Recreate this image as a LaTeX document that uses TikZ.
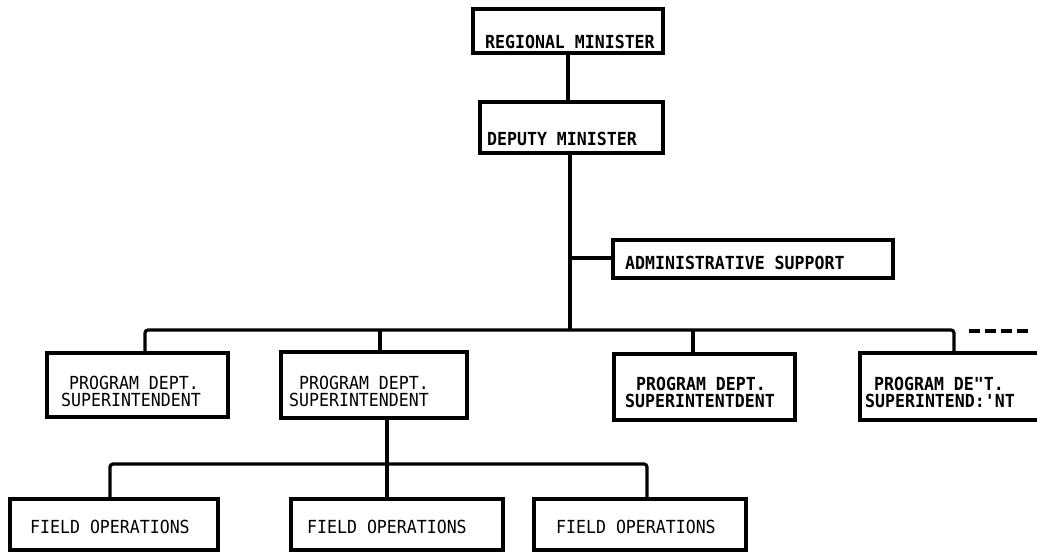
\documentclass[tikz,border=0pt]{standalone}
\usepackage{fontspec}
\newfontfamily\lblfont[FakeStretch=0.92]{DejaVu Sans Mono}
\usetikzlibrary{calc}
\begin{document}
\begin{tikzpicture}[x=1pt,y=-1pt,
  box/.style={draw=black, line width=3.2pt, inner sep=0pt, rectangle},
  conn/.style={draw=black, line width=3.2pt, rounded corners=3pt},
  lbl/.style={anchor=base west, inner sep=0pt, font=\lblfont\fontsize{18}{18}\selectfont},
  lblb/.style={lbl, font=\lblfont\bfseries\fontsize{18}{18}\selectfont},
  more/.style={draw=black, line width=3.2pt, dash pattern=on 11pt off 5pt}]
\clip (0,0) rectangle (1037,554);
\fill[white] (0,0) rectangle (1037,554);

% top of the chart
\node[box, minimum width=190pt, minimum height=44pt] (rm) at (568,31) {};
\node[box, minimum width=183pt, minimum height=51pt] (dm) at (571.5,127.5) {};
\node[box, minimum width=280pt, minimum height=38pt] (adm) at (753,259) {};
\node[lblb] (rmt) at (485,48) {REGIONAL MINISTER};
\node[lblb] (dmt) at (487,145) {DEPUTY MINISTER};
\node[lblb] (admt) at (625,269) {ADMINISTRATIVE SUPPORT};

% program departments
\node[box, minimum width=181pt, minimum height=64pt] (p1) at (137.5,385) {};
\node[box, minimum width=186pt, minimum height=66pt] (p2) at (374,385) {};
\node[box, minimum width=181pt, minimum height=66pt] (p3) at (704.5,387) {};
\node[box, minimum width=220pt, minimum height=67pt] (p4) at (970,386.5) {};
\node[lbl] (p1a) at (69,389) {PROGRAM DEPT.};
\node[lbl] (p1b) at (61,406) {SUPERINTENDENT};
\node[lbl] (p2a) at (299,389) {PROGRAM DEPT.};
\node[lbl] (p2b) at (289,406) {SUPERINTENDENT};
\node[lblb] (p3a) at (636,390) {PROGRAM DEPT.};
\node[lblb] (p3b) at (625,407) {SUPERINTENTDENT};
\node[lblb] (p4a) at (874,390) {PROGRAM DE"T.};
\node[lblb] (p4b) at (865,407) {SUPERINTEND:'NT};

% field operations
\node[box, minimum width=208pt, minimum height=51pt] (f1) at (114,524.5) {};
\node[box, minimum width=212pt, minimum height=51pt] (f2) at (397,524.5) {};
\node[box, minimum width=212pt, minimum height=51pt] (f3) at (640,524.5) {};
\node[lbl] (f1t) at (30,533) {FIELD OPERATIONS};
\node[lbl] (f2t) at (307,533) {FIELD OPERATIONS};
\node[lbl] (f3t) at (556,533) {FIELD OPERATIONS};

% junction points
\coordinate (hub) at (570,330);
\coordinate (admj) at (570,258);
\coordinate (j1) at (145,330);
\coordinate (j2) at (380,330);
\coordinate (j3) at (693,330);
\coordinate (j4) at (954,330);
\coordinate (morestart) at (969,331);
\coordinate (moreend) at (1033,331);
\coordinate (k1) at (110,464);
\coordinate (k2) at (387,464);
\coordinate (k3) at (647,464);

% connectors
\draw[conn] (rm.south) -- (rm.south |- dm.north);
\draw[conn] (hub |- dm.south) -- (hub);
\draw[conn] (admj) -- (admj -| adm.west);
\draw[conn] (j1 |- p1.north) |- (j4) -- (j4 |- p4.north);
\draw[conn] (j2) -- (j2 |- p2.north);
\draw[conn] (j3) -- (j3 |- p3.north);
\draw[more] (morestart) -- (moreend);
\draw[conn] (k2 |- p2.south) -- (k2);
\draw[conn] (k1 |- f1.north) |- (k2) -| (k3 |- f3.north);
\draw[conn] (k2) -- (k2 |- f2.north);
\end{tikzpicture}
\end{document}
